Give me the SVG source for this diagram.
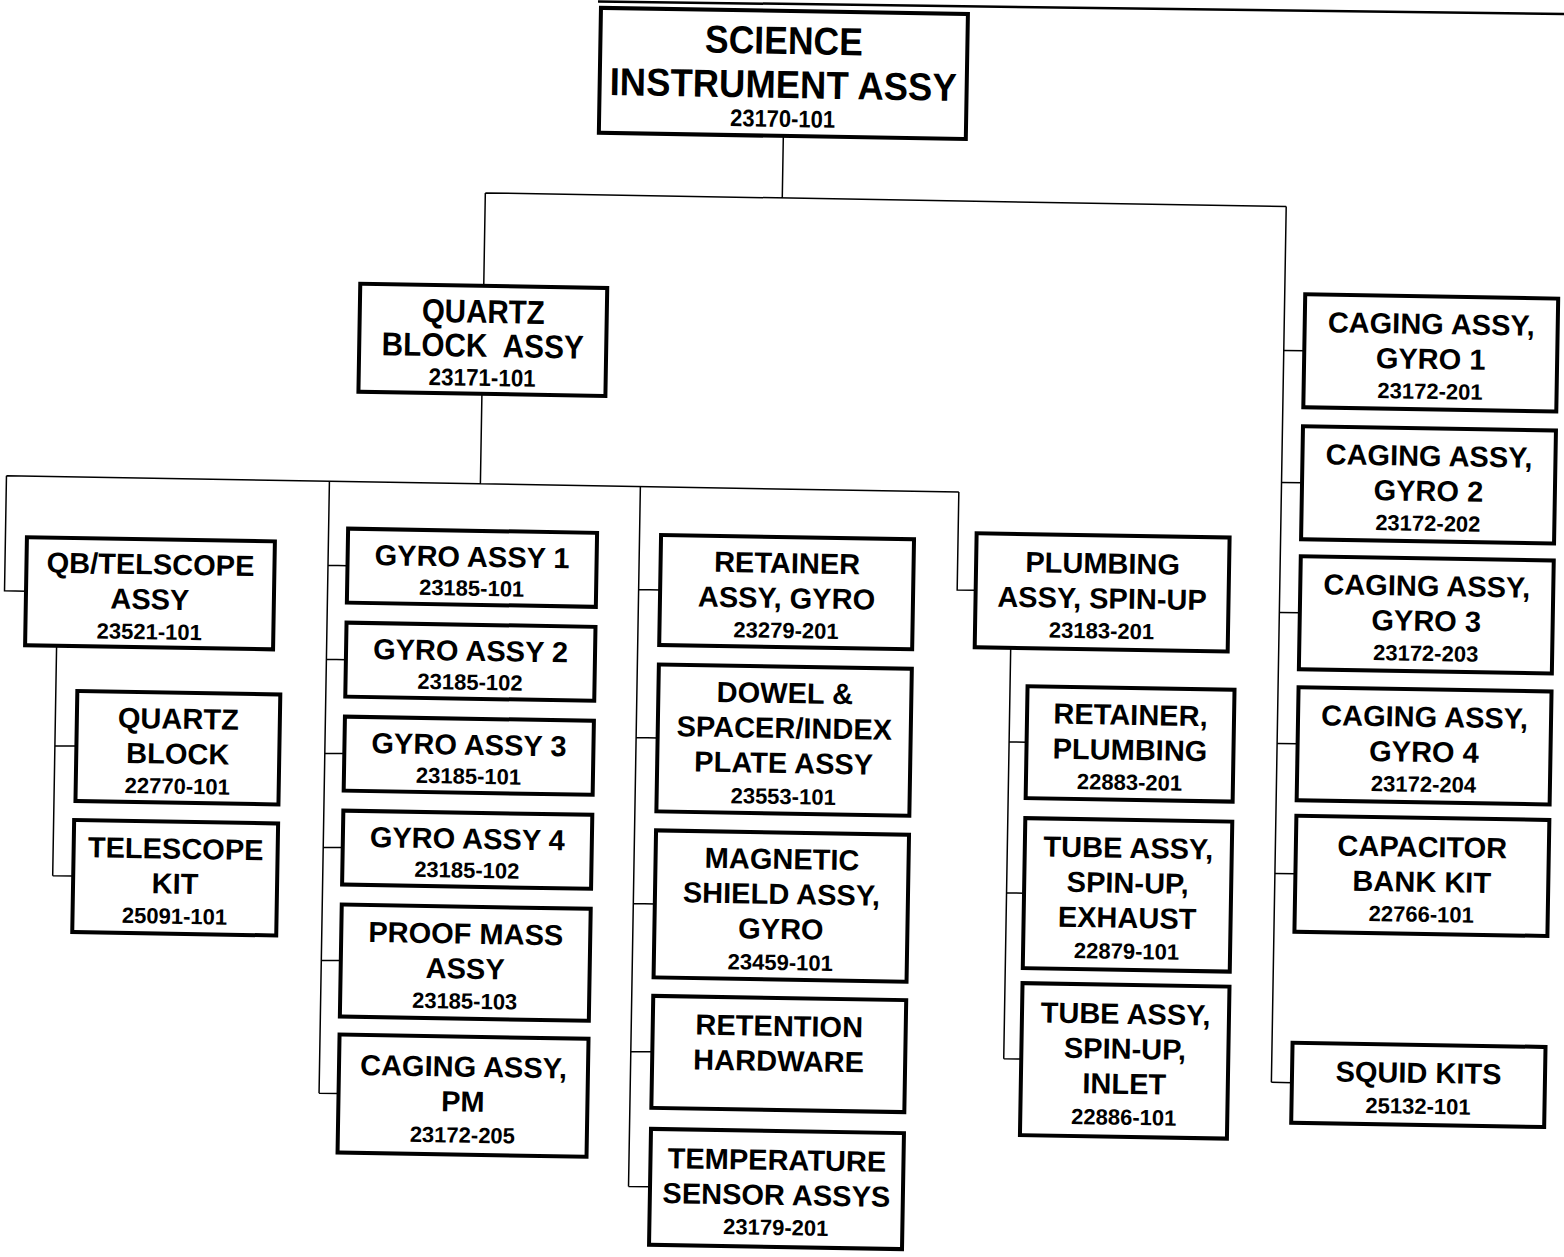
<svg xmlns="http://www.w3.org/2000/svg" width="1564" height="1257" viewBox="0 0 1564 1257">
<style>
.box{fill:#fff;stroke:#000;stroke-width:4}
.c{fill:none;stroke:#000;stroke-width:1.5}
.t{font-family:"Liberation Sans",Arial,sans-serif;font-weight:bold;font-size:29px;text-anchor:middle;fill:#000}
.n{font-family:"Liberation Sans",Arial,sans-serif;font-weight:bold;font-size:22px;text-anchor:middle;fill:#000}
.r{font-family:"Liberation Sans",Arial,sans-serif;font-weight:bold;text-anchor:middle;fill:#000;white-space:pre}
</style>
<rect width="1564" height="1257" fill="#fff"/>
<line x1="598" y1="1.5" x2="1564" y2="14" stroke="#000" stroke-width="2.5"/>
<g transform="rotate(0.97 782 628)">
<g id="connectors" class="c">
<path d="M775,136V198M478,198H1279M478,198V291M1279,198V1074"/>
<path d="M1279,342H1300M1279,474H1300M1279,604H1300M1279,735H1300M1279,865H1300M1279,1074H1300"/>
<path d="M478,399V489M4,489H956.5M4,489V604H26"/>
<path d="M327,489V1101M327,573H347M327,667H347M327,761H347M327,855H347M327,968H347M327,1101H347"/>
<path d="M638,489V1189M638,592H660M638,740H660M638,906H660M638,1054H660M638,1189H660"/>
<path d="M956.5,489V587H975"/>
<path d="M57,658V888M57,758H79M57,888H78"/>
<path d="M1011,644V1055M1011,738H1029M1011,889H1029M1011,1055H1029"/>
</g>
<g id="node-root"><rect class="box" x="590.5" y="11" width="367" height="125"/>
<text class="r" x="774" y="54" font-size="39" textLength="158" lengthAdjust="spacingAndGlyphs">SCIENCE</text>
<text class="r" x="774" y="98" font-size="39" textLength="347" lengthAdjust="spacingAndGlyphs">INSTRUMENT ASSY</text>
<text class="r" x="774" y="127" font-size="24" textLength="105" lengthAdjust="spacingAndGlyphs">23170-101</text></g>
<g id="node-quartz-block-assy"><rect class="box" x="354.5" y="291" width="247" height="108"/>
<text class="r" x="478" y="328" font-size="33" textLength="123" lengthAdjust="spacingAndGlyphs">QUARTZ</text>
<text class="r" x="478" y="362" font-size="33" textLength="202" lengthAdjust="spacingAndGlyphs">BLOCK  ASSY</text>
<text class="r" x="478" y="391" font-size="24" textLength="107" lengthAdjust="spacingAndGlyphs">23171-101</text></g>
<g id="node-qb-telscope"><rect class="box" x="25.5" y="550" width="248" height="108"/>
<text class="t" x="149.5" y="585">QB/TELSCOPE</text><text class="t" x="149.5" y="620">ASSY</text><text class="n" x="149.5" y="650">23521-101</text></g>
<g id="node-quartz-block"><rect class="box" x="78.5" y="703" width="203" height="110"/>
<text class="t" x="180" y="739">QUARTZ</text><text class="t" x="180" y="774">BLOCK</text><text class="n" x="180" y="804">22770-101</text></g>
<g id="node-telescope-kit"><rect class="box" x="77.5" y="832" width="204" height="112"/>
<text class="t" x="179.5" y="869">TELESCOPE</text><text class="t" x="179.5" y="904">KIT</text><text class="n" x="179.5" y="934">25091-101</text></g>
<g id="node-gyro1"><rect class="box" x="346.5" y="536" width="249" height="74"/>
<text class="t" x="471" y="572">GYRO ASSY 1</text><text class="n" x="471" y="601">23185-101</text></g>
<g id="node-gyro2"><rect class="box" x="346.5" y="630" width="249" height="74"/>
<text class="t" x="471" y="666">GYRO ASSY 2</text><text class="n" x="471" y="695">23185-102</text></g>
<g id="node-gyro3"><rect class="box" x="346.5" y="724" width="249" height="74"/>
<text class="t" x="471" y="760">GYRO ASSY 3</text><text class="n" x="471" y="789">23185-101</text></g>
<g id="node-gyro4"><rect class="box" x="346.5" y="818" width="249" height="74"/>
<text class="t" x="471" y="854">GYRO ASSY 4</text><text class="n" x="471" y="883">23185-102</text></g>
<g id="node-proof-mass"><rect class="box" x="346.5" y="912" width="249" height="112"/>
<text class="t" x="471" y="949">PROOF MASS</text><text class="t" x="471" y="984">ASSY</text><text class="n" x="471" y="1014">23185-103</text></g>
<g id="node-caging-pm"><rect class="box" x="346.5" y="1042" width="249" height="118"/>
<text class="t" x="471" y="1082">CAGING ASSY,</text><text class="t" x="471" y="1117">PM</text><text class="n" x="471" y="1148">23172-205</text></g>
<g id="node-retainer-gyro"><rect class="box" x="659.5" y="537" width="253" height="110"/>
<text class="t" x="786" y="573">RETAINER</text><text class="t" x="786" y="608">ASSY, GYRO</text><text class="n" x="786" y="638">23279-201</text></g>
<g id="node-dowel"><rect class="box" x="659.5" y="666.5" width="253" height="147"/>
<text class="t" x="786" y="703">DOWEL &amp;</text><text class="t" x="786" y="738">SPACER/INDEX</text><text class="t" x="786" y="773">PLATE ASSY</text><text class="n" x="786" y="804">23553-101</text></g>
<g id="node-magnetic-shield"><rect class="box" x="659.5" y="832.5" width="253" height="147"/>
<text class="t" x="786" y="869">MAGNETIC</text><text class="t" x="786" y="904">SHIELD ASSY,</text><text class="t" x="786" y="939">GYRO</text><text class="n" x="786" y="970">23459-101</text></g>
<g id="node-retention"><rect class="box" x="659.5" y="998" width="253" height="112"/>
<text class="t" x="786" y="1036">RETENTION</text><text class="t" x="786" y="1071">HARDWARE</text></g>
<g id="node-temp-sensor"><rect class="box" x="659.5" y="1131" width="253" height="116"/>
<text class="t" x="786" y="1170">TEMPERATURE</text><text class="t" x="786" y="1205">SENSOR ASSYS</text><text class="n" x="786" y="1235">23179-201</text></g>
<g id="node-plumbing"><rect class="box" x="975" y="530" width="253" height="114"/>
<text class="t" x="1101.5" y="568">PLUMBING</text><text class="t" x="1101.5" y="603">ASSY, SPIN-UP</text><text class="n" x="1101.5" y="633">23183-201</text></g>
<g id="node-retainer-plumbing"><rect class="box" x="1028.5" y="682" width="207" height="112"/>
<text class="t" x="1132" y="719">RETAINER,</text><text class="t" x="1132" y="754">PLUMBING</text><text class="n" x="1132" y="784">22883-201</text></g>
<g id="node-tube-exhaust"><rect class="box" x="1028.5" y="814" width="207" height="150"/>
<text class="t" x="1132" y="852">TUBE ASSY,</text><text class="t" x="1132" y="887">SPIN-UP,</text><text class="t" x="1132" y="922">EXHAUST</text><text class="n" x="1132" y="953">22879-101</text></g>
<g id="node-tube-inlet"><rect class="box" x="1028.5" y="979" width="207" height="152"/>
<text class="t" x="1132" y="1018">TUBE ASSY,</text><text class="t" x="1132" y="1053">SPIN-UP,</text><text class="t" x="1132" y="1088">INLET</text><text class="n" x="1132" y="1119">22886-101</text></g>
<g id="node-caging1"><rect class="box" x="1299.5" y="285.5" width="253" height="113"/>
<text class="t" x="1426" y="323">CAGING ASSY,</text><text class="t" x="1426" y="358">GYRO 1</text><text class="n" x="1426" y="388">23172-201</text></g>
<g id="node-caging2"><rect class="box" x="1299.5" y="417.5" width="253" height="113"/>
<text class="t" x="1426" y="455">CAGING ASSY,</text><text class="t" x="1426" y="490">GYRO 2</text><text class="n" x="1426" y="520">23172-202</text></g>
<g id="node-caging3"><rect class="box" x="1299.5" y="547.5" width="253" height="113"/>
<text class="t" x="1426" y="585">CAGING ASSY,</text><text class="t" x="1426" y="620">GYRO 3</text><text class="n" x="1426" y="650">23172-203</text></g>
<g id="node-caging4"><rect class="box" x="1299.5" y="678.5" width="253" height="113"/>
<text class="t" x="1426" y="716">CAGING ASSY,</text><text class="t" x="1426" y="751">GYRO 4</text><text class="n" x="1426" y="781">23172-204</text></g>
<g id="node-capacitor"><rect class="box" x="1299.5" y="807" width="253" height="116"/>
<text class="t" x="1426" y="846">CAPACITOR</text><text class="t" x="1426" y="881">BANK KIT</text><text class="n" x="1426" y="911">22766-101</text></g>
<g id="node-squid"><rect class="box" x="1299.5" y="1034" width="253" height="80"/>
<text class="t" x="1426" y="1072">SQUID KITS</text><text class="n" x="1426" y="1103">25132-101</text></g>
</g>
</svg>
